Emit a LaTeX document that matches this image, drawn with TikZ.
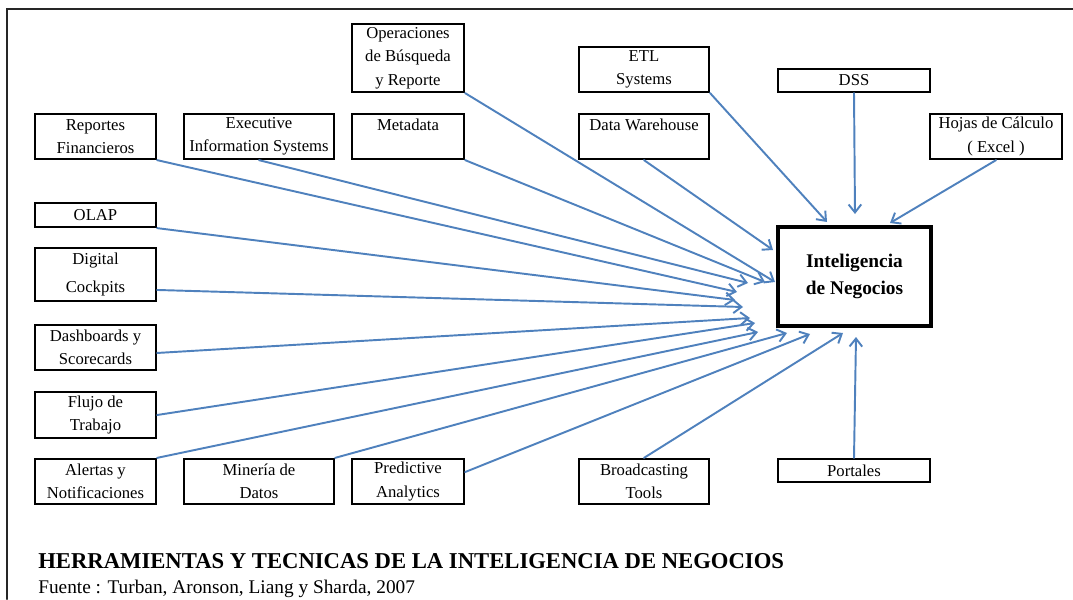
\documentclass[tikz,border=0pt]{standalone}
\usepackage{fontspec}
\setmainfont{Liberation Serif}
\usepackage{tikz}
\usetikzlibrary{arrows.meta}
\definecolor{ToolBlue}{RGB}{79,129,189}
\newcommand{\pxu}{0.75pt}
\newcommand{\BoxFont}{\fontsize{12.5}{17.5}\selectfont}

\begin{document}
\begin{tikzpicture}[line cap=round,line join=miter,>={Straight Barb[length=6pt,width=9.5pt]}
  ,x=0.75pt,y=-0.75pt
  ,box/.style={draw,line width=1.7pt,inner sep=0pt,align=center,font=\BoxFont}
  ,tool/.style={->,color=ToolBlue,line width=1.45pt}]
  \useasboundingbox (0,0) rectangle (1073,599);
  \draw [line width=1.7pt,color=black!85] (7,599) -- (7,9) -- (1073,9);
  % herramientas
  \node[box,minimum width=112*\pxu,minimum height=68*\pxu] (ops) at (408,58) {Operaciones\\de Búsqueda\\y Reporte};
  \node[box,minimum width=121*\pxu,minimum height=45*\pxu] (rep) at (95.5,136.5) {Reportes\\Financieros};
  \node[box,minimum width=150*\pxu,minimum height=45*\pxu] (exec) at (259,136.5) {Executive\\Information Systems};
  \node[box,minimum width=112*\pxu,minimum height=45*\pxu] (meta) at (408,136.5) {Metadata\\\mbox{}};
  \node[box,minimum width=130*\pxu,minimum height=45*\pxu] (etl) at (644,69.5) {ETL\\Systems};
  \node[box,minimum width=130*\pxu,minimum height=45*\pxu] (dw) at (644,136.5) {Data Warehouse\\\mbox{}};
  \node[box,minimum width=152*\pxu,minimum height=23*\pxu] (dss) at (854,80.5) {DSS};
  \node[box,minimum width=132*\pxu,minimum height=45*\pxu] (hojas) at (996,136.5) {Hojas de Cálculo\\( Excel )};
  \node[box,minimum width=121*\pxu,minimum height=24*\pxu] (olap) at (95.5,215) {OLAP};
  \node[box,minimum width=121*\pxu,minimum height=53*\pxu] (dig) at (95.5,274.5) {Digital\\[3pt]Cockpits};
  \node[box,minimum width=121*\pxu,minimum height=45*\pxu] (dash) at (95.5,347.5) {Dashboards y\\Scorecards};
  \node[box,minimum width=121*\pxu,minimum height=46*\pxu] (flujo) at (95.5,415) {Flujo de\\Trabajo};
  \node[box,minimum width=121*\pxu,minimum height=45*\pxu] (alert) at (95.5,481.5) {Alertas y\\Notificaciones};
  \node[box,minimum width=150*\pxu,minimum height=45*\pxu] (min) at (259,481.5) {Minería de\\Datos};
  \node[box,minimum width=112*\pxu,minimum height=45*\pxu] (pred) at (408,481.5) {Predictive\\Analytics};
  \node[box,minimum width=130*\pxu,minimum height=45*\pxu] (broad) at (644,481.5) {Broadcasting\\Tools};
  \node[box,minimum width=152*\pxu,minimum height=23*\pxu] (port) at (854,470.5) {Portales};
  % centro
  \node[box,line width=2.6pt,minimum width=153*\pxu,minimum height=99*\pxu
    ,font=\bfseries\fontsize{14.5}{20}\selectfont] (bi) at (854.5,276.5) {Inteligencia\\de Negocios};
  % puntas de flecha
  \coordinate (tEtl) at (827,222);
  \coordinate (tDss) at (855,214);
  \coordinate (tHojas) at (890,223);
  \coordinate (tDw) at (773,250);
  \coordinate (tOps) at (775,282);
  \coordinate (tMeta) at (765,282);
  \coordinate (tExec) at (748,283);
  \coordinate (tRep) at (737,292);
  \coordinate (tOlap) at (735,300);
  \coordinate (tDig) at (743,307);
  \coordinate (tDash) at (750,318);
  \coordinate (tFlujo) at (755,323);
  \coordinate (tAlert) at (758,332);
  \coordinate (tMin) at (787,333);
  \coordinate (tPred) at (810,334);
  \coordinate (tBroad) at (843,333);
  \coordinate (tPort) at (856,337);
  % conectores
  \draw [tool] (etl.south east) -- (tEtl);
  \draw [tool] (dss.south) -- (tDss);
  \draw [tool] (hojas.south) -- (tHojas);
  \draw [tool] (dw.south) -- (tDw);
  \draw [tool] (ops.south east) -- (tOps);
  \draw [tool] (meta.south east) -- (tMeta);
  \draw [tool] (exec.south) -- (tExec);
  \draw [tool] (rep.south east) -- (tRep);
  \draw [tool] (olap.south east) -- (tOlap);
  \draw [tool] ([yshift=-11.6pt]dig.east) -- (tDig);
  \draw [tool] ([yshift=-4.1pt]dash.east) -- (tDash);
  \draw [tool] (flujo.east) -- (tFlujo);
  \draw [tool] (alert.north east) -- (tAlert);
  \draw [tool] (min.north east) -- (tMin);
  \draw [tool] ([yshift=7.1pt]pred.east) -- (tPred);
  \draw [tool] (broad.north) -- (tBroad);
  \draw [tool] (port.north) -- (tPort);
  % titulo
  \node[anchor=base west,inner sep=0pt,font=\bfseries\fontsize{17}{20}\selectfont] (title) at (38,568)
    {HERRAMIENTAS Y TECNICAS DE LA INTELIGENCIA DE NEGOCIOS};
  \node[anchor=base west,inner sep=0pt,font=\fontsize{14.5}{17}\selectfont] (src) at (38,593)
    {Fuente : Turban, Aronson, Liang y Sharda, 2007};
\end{tikzpicture}
\end{document}
